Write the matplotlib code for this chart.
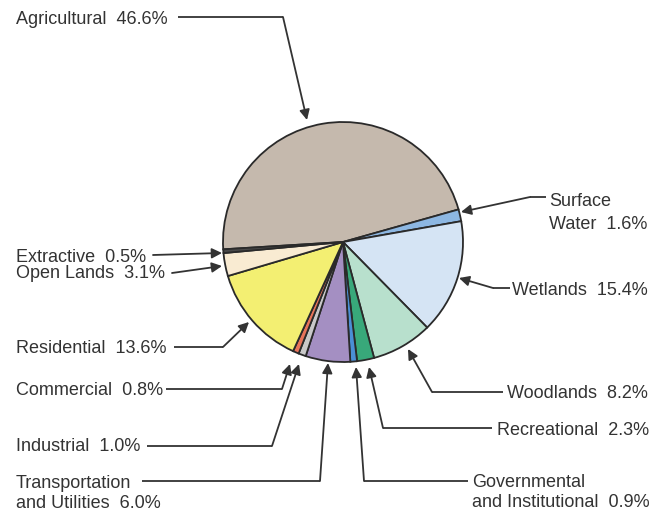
import matplotlib
matplotlib.use("Agg")
import matplotlib.pyplot as plt

plt.rcParams['font.family'] = ['Liberation Sans', 'DejaVu Sans']

categories = ["Agricultural", "Surface Water", "Wetlands", "Woodlands", "Recreational",
              "Governmental and Institutional", "Transportation and Utilities",
              "Industrial", "Commercial", "Residential", "Open Lands", "Extractive"]
values = [46.6, 1.6, 15.4, 8.2, 2.3, 0.9, 6.0, 1.0, 0.8, 13.6, 3.1, 0.5]
colors = ["#c5b9ad", "#8db7e2", "#d5e4f4", "#b8e0cd", "#38a87a", "#4a8fd6",
          "#a48fc2", "#c9c9c9", "#e8745a", "#f3ef72", "#f9ebd2", "#4a4a4a"]

H = 512
def P(x, y):
    return (x, H - y)

fig = plt.figure(figsize=(6.64, 5.12), dpi=100)
ax = fig.add_axes([0, 0, 1, 1])
ax.pie(values, colors=colors, startangle=183.5, counterclock=False,
       center=P(343, 242), radius=120,
       wedgeprops=dict(edgecolor="#2a2a2a", linewidth=1.3))
ax.set_xlim(0, 664)
ax.set_ylim(0, 512)
ax.set_aspect('equal')
ax.axis('off')

txt_color = "#333333"
line_color = "#333333"
fs = 13.0

# label texts: (lines, x, y, line spacing)
labels = [
    (["Agricultural  46.6%"], 16, 19.5, 0),
    (["Surface", "Water  1.6%"], 549, 201.5, 23),
    (["Wetlands  15.4%"], 512, 290.5, 0),
    (["Woodlands  8.2%"], 507, 393.5, 0),
    (["Recreational  2.3%"], 497, 430.5, 0),
    (["Governmental", "and Institutional  0.9%"], 472, 482.5, 20),
    (["Transportation", "and Utilities  6.0%"], 16, 483.5, 20),
    (["Industrial  1.0%"], 16, 446.5, 0),
    (["Commercial  0.8%"], 16, 390.5, 0),
    (["Residential  13.6%"], 16, 348.5, 0),
    (["Open Lands  3.1%"], 16, 273.5, 0),
    (["Extractive  0.5%"], 16, 257.5, 0),
]
for lines, x, y, dy in labels:
    for i, t in enumerate(lines):
        ax.text(*P(x, y + i * dy), t, fontsize=fs, color=txt_color,
                ha='left', va='center')

# leader paths (image pixel coords), last point = arrow tip
paths = [
    [(178, 17), (283, 17), (307, 120)],
    [(546, 197), (530, 197), (461, 212)],
    [(510, 288), (493, 288), (459, 278)],
    [(503, 392), (432, 392), (408, 349)],
    [(492, 428), (383, 428), (369, 367)],
    [(468, 481), (364, 481), (356, 367)],
    [(142, 481), (320, 481), (328, 363)],
    [(147, 446), (272, 446), (299, 364)],
    [(166, 389), (282, 389), (290, 364)],
    [(174, 347), (223, 347), (249, 322)],
    [(172, 273), (222, 266)],
    [(153, 255), (222, 253)],
]
for pts in paths:
    if len(pts) > 2:
        xs = [p[0] for p in pts[:-1]]
        ys = [H - p[1] for p in pts[:-1]]
        ax.plot(xs, ys, color=line_color, lw=1.3, solid_capstyle='butt')
    ax.annotate("", xy=P(*pts[-1]), xytext=P(*pts[-2]),
                arrowprops=dict(arrowstyle='-|>', color=line_color, lw=1.3,
                                mutation_scale=15, shrinkA=0, shrinkB=0))

fig.savefig("out.png", dpi=100, facecolor="white")
